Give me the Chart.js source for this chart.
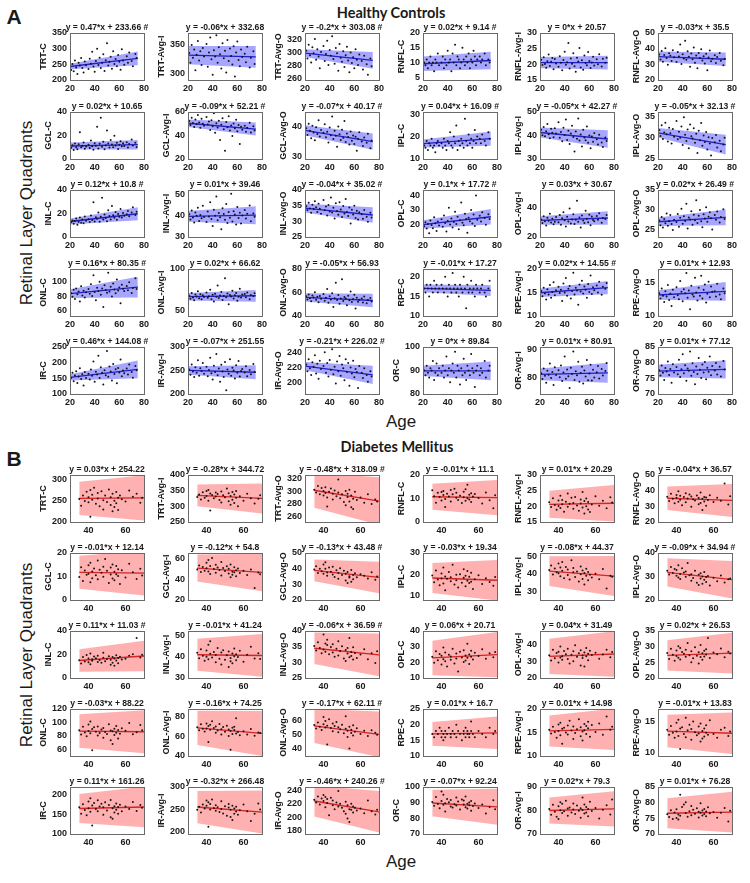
<!DOCTYPE html>
<html>
<head>
<meta charset="utf-8">
<script src="https://cdn.jsdelivr.net/npm/chart.js@4.4.1/dist/chart.umd.min.js"></script>
<style>
  body { margin: 0; background: #fff; width: 750px; height: 883px; position: relative; overflow: hidden; }
  .c { position: absolute; }
  .lbl { position: absolute; color: #1a1a1a; white-space: nowrap; transform: translate(-50%, -50%); font-family: "Liberation Sans", Arial, sans-serif; }
  .panel { font-weight: bold; font-size: 21px; }
  .head { font-family: Lato, "Open Sans", sans-serif; font-weight: 700; font-size: 14.5px; }
  .axis { font-size: 17px; }
  .rot { transform: translate(-50%, -50%) rotate(-90deg); }
</style>
</head>
<body>
<div class="lbl panel" style="left:14px;top:17px">A</div>
<div class="lbl head" style="left:391px;top:12px">Healthy Controls</div>
<div class="lbl axis rot" style="left:27px;top:213px">Retinal Layer Quadrants</div>
<div class="lbl axis" style="left:401px;top:422px">Age</div>
<div class="lbl panel" style="left:14px;top:459px">B</div>
<div class="lbl head" style="left:397px;top:446px">Diabetes Mellitus</div>
<div class="lbl axis rot" style="left:27px;top:655px">Retinal Layer Quadrants</div>
<div class="lbl axis" style="left:401px;top:862px">Age</div>

<script>
// ---- data ----
const layerNames = [
  'TRT-C', 'TRT-Avg-I', 'TRT-Avg-O', 'RNFL-C', 'RNFL-Avg-I', 'RNFL-Avg-O',
  'GCL-C', 'GCL-Avg-I', 'GCL-Avg-O', 'IPL-C', 'IPL-Avg-I', 'IPL-Avg-O',
  'INL-C', 'INL-Avg-I', 'INL-Avg-O', 'OPL-C', 'OPL-Avg-I', 'OPL-Avg-O',
  'ONL-C', 'ONL-Avg-I', 'ONL-Avg-O', 'RPE-C', 'RPE-Avg-I', 'RPE-Avg-O',
  'IR-C', 'IR-Avg-I', 'IR-Avg-O', 'OR-C', 'OR-Avg-I', 'OR-Avg-O'
];

// Healthy controls (panel A)
const healthyXRange = [20, 80];
const healthyXTicks = [20, 40, 60, 80];
const healthyFitRange = [20, 75];
const healthySlopes = [0.47, -0.06, -0.2, 0.02, 0, -0.03, 0.02, -0.09, -0.07, 0.04, -0.05, -0.05,
  0.12, 0.01, -0.04, 0.1, 0.03, 0.02, 0.16, 0.02, -0.05, -0.01, 0.02, 0.01, 0.46, -0.07, -0.21, 0, 0.01, 0.01];
const healthyIntercepts = [233.66, 332.68, 303.08, 9.14, 20.57, 35.5, 10.65, 52.21, 40.17, 16.09, 42.27, 32.13,
  10.8, 39.46, 35.02, 17.72, 30.67, 26.49, 80.35, 66.62, 56.93, 17.27, 14.55, 12.93, 144.08, 251.55, 226.02, 89.84, 80.91, 77.12];
const healthyMarked = [1, 0, 1, 1, 0, 0, 0, 1, 1, 1, 1, 1, 1, 0, 1, 1, 0, 1, 1, 0, 0, 0, 1, 0, 1, 0, 1, 0, 0, 0];
const healthyYMin = [200, 288, 258, 4, 15, 20, 0, 20, 29, 10, 30, 25, 0, 30, 25, 11, 20, 23, 53, 44, 40, 10, 10, 10, 100, 200, 185, 80, 74, 70];
const healthyYMax = [350, 370, 330, 20, 30, 50, 40, 60, 45, 31, 50, 36, 40, 52, 40, 44, 52, 35, 117, 100, 80, 22, 20, 17, 250, 300, 247, 100, 91, 85];
const healthyYTicks = [
  [200, 250, 300, 350], [300, 350], [260, 280, 300, 320], [5, 10, 15, 20], [15, 20, 25, 30], [20, 30, 40, 50],
  [0, 20, 40], [20, 40, 60], [30, 40], [10, 20, 30], [30, 40, 50], [25, 30, 35],
  [0, 20, 40], [30, 40, 50], [25, 30, 35, 40], [20, 30, 40], [20, 40], [25, 30, 35],
  [60, 80, 100], [50, 100], [40, 60, 80], [10, 15, 20], [10, 15, 20], [10, 15],
  [100, 150, 200, 250], [200, 250, 300], [200, 220, 240], [80, 90, 100], [80, 90], [70, 75, 80, 85]
];
const healthyBandStart = [9, 16, 6, 2.5, 1.8, 3.3, 3, 3.2, 1.7, 1.8, 2.1, 1.1, 2.5, 2.5, 1.4, 3, 2.9, 1.1, 6, 4.5, 3.5, 1, 0.9, 0.7, 10, 9, 5.5, 2.2, 2.1, 2];
const healthyBandEnd = [22, 19, 13, 3, 2.2, 4.3, 4, 5.5, 2.8, 3.2, 3.7, 2.3, 5.5, 4.2, 2.5, 5.5, 4.6, 2, 14, 7, 5.8, 1.4, 1.4, 1.4, 28, 15, 12, 4, 3.6, 2.9];
const healthyAges = [21, 22, 23, 24, 25, 26, 27, 28, 29, 30, 31, 32, 33,
  35, 36, 37, 38, 39, 40, 41, 42, 43, 44, 45, 46, 47, 48, 49, 50, 51, 52, 53, 54, 55, 56, 57, 58, 59, 60, 61, 62, 63, 64,
  66, 67, 68, 70, 71, 73, 74];
const healthyValues = [
  [232,251,228,262,240,219,255,246,270,238,224,259,247, 235,268,252,290,243,226,261,300,248,271,238,255,282,229,263,317,246,258,274,236,292,251,267,244,280,258,233,298,262,249, 276,255,288,261,244,283,270],
  [335,318,349,327,341,305,332,356,322,338,314,344,329, 351,311,336,362,324,297,340,329,366,318,345,333,308,352,326,339,301,358,321,343,330,315,347,294,336,355,323,312,341,328, 334,319,346,310,327,338,316],
  [303,291,312,296,285,308,299,321,289,305,294,276,301, 310,287,298,318,281,304,295,325,290,283,307,299,272,313,292,286,302,278,296,309,288,270,300,284,293,276,305,289,281,297, 287,274,295,282,266,291,279],
  [10,9,11,8,10,12,9,10,7,11,10,13,9, 10,12,8,11,9,14,10,11,7,13,10,16,9,12,11,8,10,15,11,9,12,10,13,8,11,10,14,12,9,11, 12,10,11,13,9,11,10],
  [21.5,19.8,22.3,20.1,18.9,21.0,23.1,19.5,20.8,22.0,18.4,21.7,20.3, 19.2,22.6,20.5,18.1,21.4,24.0,19.9,20.7,26.8,18.7,21.9,20.2,23.5,19.4,17.6,22.1,20.9,25.2,19.0,21.3,18.3,22.8,20.4,19.7,23.9,21.1,18.8,20.6,22.4,19.6, 21.6,20.0,23.2,19.3,21.8,20.5,22.1],
  [36.2,33.1,38.5,31.7,35.9,40.3,34.0,29.8,37.1,35.4,32.2,39.0,34.6, 31.5,37.8,35.0,42.6,30.2,36.4,33.7,45.1,32.9,38.3,34.8,28.4,36.9,33.2,40.7,31.0,35.6,27.5,37.3,34.1,39.6,32.5,35.2,30.6,36.8,26.3,34.4,38.9,31.9,33.6, 35.8,30.9,34.7,37.2,32.3,29.4,33.5],
  [9.5,11.8,7.6,13.2,10.1,8.4,12.6,22.8,9.9,11.3,14.0,8.8,10.6, 12.1,9.3,15.7,10.8,7.9,13.5,11.2,27.4,9.0,12.9,35.1,10.4,14.6,8.2,11.7,24.3,13.1,9.7,16.2,12.4,10.0,19.8,11.5,13.8,8.6,12.2,15.1,10.9,13.4,11.0, 14.2,9.8,12.7,16.5,11.4,13.9,10.3],
  [52.3,48.9,55.1,50.7,47.2,53.6,49.8,57.4,51.0,46.5,54.2,50.1,48.3, 55.8,49.4,51.9,44.6,53.0,47.8,58.9,42.3,50.5,46.9,52.6,36.2,49.1,54.7,45.3,27.1,51.4,47.0,56.3,44.2,48.6,39.5,50.2,46.1,53.3,43.7,49.0,32.8,47.5,45.0, 48.4,43.1,46.7,50.9,42.5,47.9,44.3],
  [39.5,37.2,41.0,38.6,36.1,40.3,38.0,35.4,39.8,37.5,42.2,36.7,38.9, 37.9,40.8,36.4,38.3,34.6,39.7,37.1,43.5,35.8,38.6,36.9,33.2,40.1,37.4,35.5,39.0,36.2,41.9,34.8,37.7,36.5,33.9,38.4,35.2,37.0,34.1,36.6,31.8,35.9,38.1, 35.0,33.4,36.3,34.5,37.6,32.7,35.3],
  [16,15,18,14,17,16,19,15,16,13,17,18,16, 17,15,19,16,14,18,17,22,16,15,20,17,25,14,18,16,19,17,15,28,18,16,21,17,19,15,18,23,17,20, 19,17,21,18,16,22,19],
  [42.4,40.1,43.6,39.7,41.8,44.9,40.5,38.8,42.9,41.2,39.3,43.1,40.8, 45.6,39.0,41.5,37.6,43.3,40.2,46.8,38.1,42.0,36.4,40.9,44.1,39.4,33.2,41.7,38.6,47.2,37.9,40.4,35.3,42.5,39.1,38.0,43.8,36.9,40.0,34.6,39.6,37.3,41.1, 38.4,36.2,40.3,37.0,35.1,39.2,37.7],
  [31.8,30.4,32.9,29.7,31.2,33.5,30.8,29.1,32.3,31.0,28.6,32.0,30.2, 33.9,29.6,31.4,30.0,32.6,28.3,34.8,30.7,29.2,31.9,27.5,33.1,30.3,29.8,32.2,28.8,30.9,26.4,31.6,29.4,33.4,28.1,30.5,29.0,31.3,27.2,30.1,28.6,25.8,29.9, 28.9,30.6,27.7,29.3,26.8,28.4,30.0],
  [12.5,14.1,11.2,13.6,15.8,10.4,13.0,16.7,12.2,14.9,11.6,17.5,13.8, 15.2,12.7,18.3,14.4,29.6,13.1,16.9,15.5,20.8,12.9,17.2,33.4,14.8,19.1,16.1,13.5,22.7,17.8,15.0,26.3,18.5,16.4,21.2,14.7,19.6,17.3,23.9,16.6,20.4,18.0, 19.3,22.1,17.6,20.9,25.4,18.8,21.5],
  [40.6,38.2,42.4,39.1,36.8,41.5,39.9,43.7,37.5,40.3,38.8,44.6,39.4, 37.0,41.9,39.6,46.3,38.4,35.2,42.8,40.0,48.9,37.8,41.2,39.3,33.6,43.4,40.8,38.1,45.5,36.6,41.7,39.0,50.2,37.2,42.1,40.5,35.9,44.0,38.9,41.4,36.3,40.1, 42.6,38.7,40.9,44.8,37.4,41.0,39.5],
  [34.8,33.6,35.9,34.1,32.7,35.3,33.9,36.4,34.5,33.0,35.6,34.0,32.4, 36.8,33.5,34.7,31.9,35.2,33.1,37.6,32.8,34.3,30.9,35.8,33.3,32.1,36.1,33.8,31.4,34.9,32.5,37.1,33.0,31.7,34.4,29.3,33.7,32.2,35.0,31.1,33.4,30.6,32.9, 32.3,30.8,33.6,31.5,29.9,32.7,31.2],
  [18.5,21.3,16.9,20.2,13.7,22.6,19.4,17.1,24.8,20.6,15.3,21.9,19.0, 23.4,18.2,26.1,20.9,14.8,22.3,31.5,19.7,24.0,17.6,21.5,28.7,20.1,25.3,16.4,22.8,35.2,21.0,19.3,27.4,23.7,13.9,24.6,22.0,29.9,20.5,26.8,18.8,40.1,23.1, 25.9,21.8,28.3,24.4,19.6,27.0,23.6],
  [31.9,29.5,34.2,30.7,27.8,33.1,31.0,35.8,29.9,32.4,28.6,30.3,33.6, 30.1,34.9,28.3,32.7,36.9,31.4,27.1,33.8,30.6,39.4,29.2,32.0,35.5,28.9,31.7,44.6,30.4,33.3,26.4,34.6,31.2,29.6,37.8,32.5,30.0,35.1,28.0,33.9,31.5,30.8, 34.3,31.8,36.2,29.7,33.0,32.2,35.0],
  [27.2,26.0,28.1,25.4,27.6,26.5,29.0,25.9,27.0,28.6,26.3,24.8,27.4, 26.8,28.9,25.6,27.9,30.2,26.4,28.3,27.1,31.5,25.2,28.0,27.5,29.6,26.1,28.7,27.3,32.4,26.6,28.4,29.9,27.0,25.5,28.8,27.7,30.6,26.9,28.2,29.3,27.8,24.9, 28.6,27.4,29.5,26.7,28.1,30.1,27.6],
  [84.1,79.3,88.7,76.0,90.4,82.6,86.2,72.8,93.5,81.0,87.4,78.1,85.5, 89.9,83.2,96.1,80.4,108.5,85.8,74.6,91.3,87.0,99.7,82.1,90.6,65.3,94.8,88.3,84.7,112.0,86.5,92.9,79.5,97.4,89.2,83.9,102.6,87.7,91.8,70.2,95.5,90.1,86.9, 93.7,88.0,98.8,84.4,91.1,104.3,89.6],
  [68.2,64.5,71.3,66.0,62.8,69.7,67.1,73.4,65.2,70.0,63.9,68.8,66.5, 71.9,65.8,67.6,75.2,64.1,69.3,61.4,70.6,66.9,80.3,65.5,68.4,72.7,63.2,67.9,89.0,66.2,70.9,58.1,69.0,67.3,74.0,64.8,68.6,71.5,62.3,67.0,76.4,65.9,69.5, 70.2,66.4,72.1,64.0,68.9,67.7,71.0],
  [56.8,54.1,58.4,55.2,52.6,57.5,55.8,60.2,53.9,56.3,51.7,57.0,54.6, 58.7,53.0,55.5,62.9,51.2,56.9,54.0,59.3,47.6,55.1,68.4,53.6,57.8,50.4,54.8,71.2,52.7,56.2,55.0,49.1,57.2,53.3,60.8,51.9,54.4,58.0,46.3,55.6,52.1,53.8, 54.9,51.5,56.6,50.8,53.7,55.3,52.4],
  [17,16,18,17,15,18,17,16,19,17,18,16,17, 18,17,16,20,17,15,18,17,16,21,17,18,16,17,15,18,17,16,20,17,12,18,16,17,19,16,17,15,18,17, 16,17,18,16,15,17,19],
  [15.3,14.2,16.0,14.8,13.5,15.7,14.6,16.6,13.9,15.1,17.2,14.4,15.5, 16.2,14.9,15.6,13.2,16.9,15.0,18.1,14.3,15.8,16.4,13.7,15.3,19.2,14.6,16.0,15.4,12.4,16.7,15.2,17.5,14.8,16.3,15.6,13.9,16.8,15.1,18.6,14.7,16.1,15.5, 16.5,15.0,17.3,14.5,16.2,15.8,17.0],
  [13.4,12.6,14.1,13.0,12.1,13.7,12.9,14.6,12.4,13.3,11.5,13.9,12.8, 14.3,13.1,12.5,15.2,13.6,12.2,14.0,13.4,16.4,12.7,13.8,11.0,14.5,13.2,12.9,15.7,13.5,12.3,14.2,13.0,16.0,12.6,13.9,14.7,12.0,13.3,15.1,12.8,14.4,13.6, 13.7,12.9,14.8,13.2,12.5,14.1,13.4],
  [152,168,141,159,173,135,156,182,148,163,127,170,151, 165,146,178,158,204,139,171,162,222,151,185,168,130,176,160,237,155,188,172,143,196,164,179,134,183,169,210,157,175,166, 181,162,194,170,152,189,176],
  [252,241,263,248,236,257,245,272,239,255,249,266,243, 258,238,251,277,244,231,260,247,285,240,254,226,262,248,236,268,208,252,243,274,239,256,250,233,261,245,270,237,249,253, 246,259,238,251,242,264,247],
  [224,215,231,219,210,227,221,236,212,225,205,229,218, 222,240,213,226,208,230,217,244,211,221,199,228,215,235,209,224,219,203,231,214,226,196,220,212,229,207,218,214,193,222, 213,206,219,210,201,215,208],
  [90,88,92,89,87,91,90,94,86,89,93,88,91, 89,92,87,90,96,88,91,85,90,93,89,98,87,92,90,84,91,88,95,89,86,92,90,88,97,91,89,83,90,92, 88,91,89,94,87,90,92],
  [81.5,79.4,83.2,80.6,78.1,82.4,81.0,85.0,79.8,82.0,77.3,83.7,80.9, 82.6,80.1,84.3,78.7,81.8,87.6,79.5,82.9,80.4,76.2,83.5,81.2,89.4,79.1,82.2,80.8,85.7,78.4,81.6,83.9,77.8,82.5,80.3,86.3,79.0,81.4,84.6,78.9,82.8,80.0, 81.9,84.1,79.6,83.0,80.7,82.3,85.2],
  [77.6,75.9,79.1,76.8,74.5,78.3,77.2,80.4,76.1,78.0,73.6,79.5,76.9, 78.6,76.3,80.9,75.4,77.9,82.7,76.6,79.2,74.2,78.1,77.4,83.6,75.8,79.8,77.0,73.1,78.8,76.4,81.5,77.7,75.1,79.4,76.9,80.2,74.7,78.4,77.1,82.0,76.0,78.9, 77.5,79.9,76.2,78.7,75.6,80.5,77.8]
];

// Diabetes mellitus (panel B)
const diabetesXRange = [30, 70];
const diabetesXTicks = [40, 60];
const diabetesFitRange = [35, 70];
const diabetesSlopes = [0.03, -0.28, -0.48, -0.01, 0.01, -0.04, -0.01, -0.12, -0.13, -0.03, -0.08, -0.09,
  0.11, -0.01, -0.06, 0.06, 0.04, 0.02, -0.03, -0.16, -0.17, 0.01, 0.01, -0.01, 0.11, -0.32, -0.46, -0.07, 0.02, 0.01];
const diabetesIntercepts = [254.22, 344.72, 318.09, 11.1, 20.29, 36.57, 12.14, 54.8, 43.48, 19.34, 44.37, 34.94,
  11.03, 41.24, 36.59, 20.71, 31.49, 26.53, 88.22, 74.25, 62.11, 16.7, 14.98, 13.83, 161.26, 266.48, 240.26, 92.24, 79.3, 76.28];
const diabetesMarked = [0, 0, 1, 0, 0, 0, 0, 0, 1, 0, 0, 1, 1, 0, 1, 0, 0, 0, 0, 0, 1, 0, 0, 0, 0, 0, 1, 0, 0, 0];
const diabetesYMin = [200, 250, 252, 0, 15, 20, 0, 20, 20, 8, 25, 20, 0, 30, 25, 10, 20, 20, 50, 40, 35, 10, 10, 9.5, 100, 195, 175, 70, 70, 70];
const diabetesYMax = [310, 400, 325, 20, 30, 50, 20, 65, 50, 30, 52, 40, 40, 52, 40, 40, 48, 35, 120, 88, 68, 25, 20, 17, 220, 300, 245, 100, 90, 85];
const diabetesYTicks = [
  [200, 250, 300], [250, 300, 350, 400], [260, 280, 300, 320], [0, 10, 20], [15, 20, 25, 30], [20, 30, 40, 50],
  [0, 10, 20], [20, 40, 60], [20, 30, 40, 50], [10, 20, 30], [30, 40, 50], [20, 30, 40],
  [0, 20, 40], [30, 40, 50], [25, 30, 35, 40], [10, 20, 30, 40], [20, 30, 40], [20, 25, 30, 35],
  [60, 80, 100, 120], [40, 60, 80], [40, 50, 60], [10, 15, 20, 25], [10, 15, 20], [10, 15],
  [100, 150, 200], [200, 250, 300], [180, 200, 220, 240], [70, 80, 90, 100], [70, 80, 90], [70, 75, 80, 85]
];
const diabetesBandStart = [39, 35, 27, 5.5, 4.3, 7.5, 7, 13, 7, 7, 8.5, 6, 9.5, 7.5, 5, 11, 10.5, 4.8, 25, 17.5, 12, 3.8, 3.3, 2.6, 37, 36, 23, 8.5, 5.5, 4.8];
const diabetesBandEnd = [53, 48, 37, 7.5, 5.8, 10.5, 9.5, 18, 10, 9.5, 11.5, 8, 13, 10, 6.8, 14.5, 13.5, 6.5, 32, 23, 16, 5.2, 4.4, 3.3, 52, 48, 31, 11.5, 7.5, 6.5];
const diabetesAges = [35, 36, 37, 38, 39, 40, 40, 41, 41, 42, 42, 43, 44, 45, 45, 46, 47, 48, 48, 49,
  50, 51, 52, 52, 53, 53, 54, 54, 55, 55, 56, 56, 57, 58, 60, 62, 64, 66, 68, 69];
const diabetesValues = [
  [254,238,262,249,271, 246,258,275,212,264,252,280, 243,268,255,237,272,251,229,262, 247,276,240,258,225,266,250,235, 270,244,257,228,262,253, 248,274,259,266,245,257],
  [330,338,322,345,327, 349,333,352,318,341,287,336, 326,344,331,339,320,347,312,335, 329,357,316,342,305,333,321,346, 338,311,327,349,300,332, 318,340,326,309,324,335],
  [302,298,308,295,305, 300,293,306,297,290,276,299, 304,287,296,301,292,318,298,289, 295,283,300,278,291,296,284,302, 275,293,288,272,299,286, 290,282,295,280,287,284],
  [13.5,11.0,8.2,12.4,10.6, 9.1,12.8,11.5,13.2,9.8,6.4,12.0, 10.9,13.6,8.7,11.8,14.2,10.3,12.5,9.4, 11.2,8.1,12.9,10.5,9.0,13.9,10.1,15.8, 11.6,9.6,12.2,8.5,10.8,11.9, 10.2,7.9,12.6,9.3,5.8,11.4],
  [21.3,19.8,22.6,20.4,18.9, 21.9,20.1,23.4,19.5,22.0,20.7,18.3, 21.5,24.1,19.9,20.8,22.7,19.2,21.1,23.0, 20.3,18.6,22.2,20.9,19.6,24.6,21.7,17.7, 20.0,22.5,19.0,21.4,18.2,20.6, 23.2,20.2,21.8,19.4,22.9,21.2],
  [36.1,33.4,38.0,34.8,31.9, 37.2,35.5,39.6,33.0,36.8,34.2,30.7, 35.9,38.4,32.6,35.0,37.5,29.8,36.3,34.5, 33.7,36.9,31.4,35.3,38.8,32.2,34.9,27.6, 36.0,33.1,35.6,30.4,34.0,37.0, 32.8,35.4,33.6,44.5,31.2,36.4],
  [9.8,13.9,8.1,12.6,10.7, 14.8,11.2,7.6,15.9,12.1,9.3,13.4, 10.5,16.8,8.8,12.9,11.6,14.2,9.9,17.5, 12.4,7.2,13.8,10.9,15.1,9.1,12.0,8.4, 14.5,11.0,10.2,13.1,6.8,12.7, 9.6,15.4,11.8,8.9,13.3,10.4],
  [49.2,53.1,46.8,51.5,48.0, 55.7,50.3,58.2,47.4,52.6,44.9,60.1, 49.7,53.8,46.0,51.0,48.8,56.4,43.5,50.6, 47.7,52.2,45.3,49.9,41.8,54.0,47.1,44.2, 51.4,46.6,48.5,42.7,50.1,45.8, 47.9,43.9,49.3,31.5,46.3,44.6],
  [39.4,41.5,37.2,40.0,38.3, 42.6,36.8,39.9,44.1,37.6,35.4,40.7, 38.1,36.2,41.2,34.7,39.0,37.3,33.6,40.3, 35.9,38.6,32.4,36.7,30.8,37.9,34.3,35.1, 39.2,31.7,36.0,33.3,37.1,34.6, 36.4,35.5,33.8,37.7,32.9,35.0],
  [19.5,16.3,21.8,17.6,14.9, 20.4,18.1,23.2,15.7,19.0,12.6,17.9, 21.1,16.8,18.7,24.5,15.2,19.8,17.3,13.8, 20.0,16.1,22.4,18.4,14.4,19.3,17.0,21.6, 15.9,18.9,16.6,20.7,13.2,17.7, 19.6,15.5,18.2,16.4,14.7,18.8],
  [42.3,44.8,39.6,43.1,41.0, 45.9,40.4,43.7,38.7,46.8,41.8,37.5, 44.0,39.3,42.5,36.8,47.9,40.9,43.4,38.2, 41.4,35.6,44.3,39.8,37.1,42.0,33.9,40.5, 38.9,43.0,36.3,41.1,39.5,37.9, 40.1,36.9,42.8,31.6,39.0,38.4],
  [32.4,30.9,34.0,31.5,33.2, 30.3,32.8,29.6,34.8,31.1,28.9,33.5, 31.7,29.9,32.1,35.7,30.5,28.2,31.0,29.4, 32.5,27.3,30.7,26.4,31.4,29.1,30.0,26.9, 28.6,31.9,29.8,27.7,30.2,26.2, 29.5,28.0,30.4,27.5,28.8,29.2],
  [15.2,12.4,17.8,14.0,19.6, 13.3,16.5,20.9,11.8,15.9,14.6,18.2, 16.9,13.7,19.0,15.4,12.9,17.3,21.5,14.2, 16.1,18.6,11.2,15.6,17.9,13.0,16.7,10.4, 19.3,14.8,17.1,12.5,18.0,15.8, 16.4,18.9,20.2,34.0,17.5,19.8],
  [41.8,39.2,43.5,40.4,38.1, 42.9,40.0,45.6,38.8,41.3,47.2,39.6, 42.2,37.4,40.8,44.1,39.0,41.9,36.3,43.0, 38.5,40.6,35.2,42.4,39.4,37.8,41.5,36.9, 40.2,43.8,38.3,41.1,39.8,42.7, 37.6,40.9,44.6,39.1,41.6,38.9],
  [35.2,33.8,36.4,34.6,32.9, 38.9,34.1,36.0,33.4,35.5,37.2,32.6, 34.9,33.1,35.8,31.8,34.3,36.7,32.2,33.6, 35.1,31.2,33.9,30.4,34.6,32.8,37.8,31.6, 33.3,32.0,34.8,30.9,33.0,31.4, 32.5,34.2,31.0,32.9,29.8,33.5],
  [23.5,19.8,27.1,21.4,25.3, 18.6,24.2,29.5,22.0,20.7,26.3,17.4, 24.9,21.7,23.8,28.6,19.3,25.7,22.5,14.1, 26.8,23.1,20.2,27.7,24.4,21.1,31.9,22.9, 25.0,19.0,27.4,23.6,21.8,26.1, 24.0,28.3,22.3,25.8,23.3,26.6],
  [33.5,30.4,36.8,31.7,34.9, 29.3,35.6,32.2,38.7,33.0,30.9,36.1, 34.2,31.3,37.4,28.6,33.8,35.9,30.0,39.5, 32.6,34.7,27.5,36.5,31.9,33.4,26.8,35.2, 37.9,32.9,34.4,30.6,36.2,33.7, 35.0,31.5,34.0,36.9,32.3,35.5],
  [28.0,26.1,29.3,27.4,25.5, 28.8,27.0,30.1,26.5,29.6,25.9,28.3, 27.7,29.0,26.8,31.2,27.3,25.0,28.5,26.3, 29.8,27.1,24.6,28.2,26.7,30.5,27.9,25.8, 28.7,26.9,29.2,27.5,32.8,26.4, 28.1,27.6,29.4,26.6,28.4,27.8],
  [88.5,82.1,93.4,85.0,79.6, 96.8,87.3,101.5,83.9,90.2,58.4,92.7, 86.0,80.7,94.1,84.4,89.5,77.3,91.8,85.6, 82.9,97.2,88.1,73.5,86.7,67.9,90.6,81.4, 94.5,84.8,76.2,88.9,83.0,91.2, 87.6,99.1,82.5,85.2,96.0,88.3],
  [69.4,66.2,72.5,67.8,64.9, 73.1,68.0,70.6,54.2,71.9,66.8,75.4, 68.5,63.7,70.2,66.1,72.8,61.9,67.3,69.6, 64.8,71.0,60.5,67.0,46.3,65.6,68.9,62.4, 66.5,70.0,63.1,78.6,64.4,61.2, 65.3,62.0,67.6,60.7,64.1,63.4],
  [56.8,54.3,58.5,55.6,53.2, 62.4,57.3,55.0,59.6,43.1,56.2,60.8, 54.7,57.8,52.4,56.0,58.9,51.6,55.2,53.8, 57.0,50.9,54.1,62.9,52.7,48.3,55.5,40.2, 53.5,51.2,56.6,49.4,52.0,54.4, 50.5,52.8,49.0,53.1,51.4,50.0],
  [17,16,18,17,19, 16,18,17,15,18,16,17, 19,17,16,18,17,20,16,18, 17,15,18,17,16,19,17,18, 16,17,21,18,17,16, 18,17,16,19,17,18],
  [15.6,14.8,16.2,15.1,13.9, 16.7,15.3,14.4,17.1,15.8,12.6,16.0, 15.0,16.5,14.6,17.5,15.4,13.6,16.3,14.9, 15.7,17.8,14.2,16.1,15.2,13.3,16.8,15.5, 14.7,16.4,15.9,17.3,14.1,16.6, 15.1,16.9,14.5,18.4,15.6,16.2],
  [13.7,12.9,14.3,13.2,12.4, 14.8,13.4,15.3,12.7,13.9,10.6,14.1, 13.0,15.6,12.5,13.6,14.5,12.1,13.8,15.0, 13.3,12.8,14.2,13.1,11.8,14.7,13.5,12.3, 13.9,12.6,14.4,13.2,12.9,15.2, 13.0,12.4,13.7,14.0,12.7,13.4],
  [168,152,176,161,148, 183,166,191,157,173,122,179, 164,186,158,170,177,149,168,181, 160,174,143,187,166,139,171,155, 178,162,169,152,175,158, 170,164,182,159,174,167],
  [249,256,243,261,252, 270,258,266,211,262,250,272, 253,247,259,255,244,268,251,241, 257,236,254,262,233,249,226,258, 252,240,245,256,238,248, 261,246,224,240,263,250],
  [226,222,231,219,228, 233,224,230,215,227,221,203, 229,218,225,212,222,239,216,220, 214,209,223,205,218,198,212,193, 220,211,216,207,214,210, 213,206,225,209,204,211],
  [90.5,88.1,93.6,89.2,86.4, 97.2,91.0,88.7,95.1,89.6,84.3,92.4, 90.2,87.5,91.7,86.9,89.0,93.3,88.2,90.8, 85.6,92.1,88.8,91.4,87.1,94.0,89.3,86.2, 90.1,88.4,84.9,91.1,87.8,89.5, 86.6,88.9,83.1,87.3,91.6,85.8],
  [80.6,78.2,82.4,79.5,77.3, 81.8,76.4,83.5,80.1,78.9,82.9,79.7, 84.2,80.9,77.8,81.3,79.2,83.0,80.4,78.5, 82.1,79.9,76.9,81.0,85.5,80.2,78.7,82.6, 79.1,81.5,80.6,77.6,83.7,79.8, 81.1,76.6,80.3,82.2,78.3,84.7],
  [76.3,75.4,77.6,74.8,76.9, 75.1,77.9,74.6,76.2,82.5,75.8,78.6, 79.4,76.7,80.1,75.5,77.3,78.9,76.0,77.7, 76.5,78.2,75.3,77.1,79.8,76.8,75.9,77.5, 78.0,76.4,77.2,75.7,78.5,76.6, 77.0,75.2,76.8,78.3,74.0,77.4]
];

// ---- layout ----
const FONT = '"Liberation Sans", Arial, sans-serif';
const COL_LEFT = [70, 187.6, 305.2, 422.8, 540.4, 658];
const HEALTHY_ROW_TOP = [33, 111.5, 190, 268.5, 347];
const DIABETES_ROW_TOP = [475, 553, 631, 709, 787];
const PAD_L = 46, PAD_T = 14, PAD_R = 10, AXIS_H = 17, BOX_W = 74, BOX_H = 47;

Chart.defaults.font.family = FONT;

const measure = document.createElement('canvas').getContext('2d');
measure.font = 'bold 9px ' + FONT;

// frame + "y = a*x + b" title over each small axes
const framePlugin = {
  id: 'frame',
  afterDatasetsDraw(chart, args, opts) {
    const { ctx, chartArea: a } = chart;
    ctx.save();
    ctx.strokeStyle = '#6a6a6a';
    ctx.lineWidth = 1;
    ctx.strokeRect(Math.round(a.left) + 0.5, Math.round(a.top) + 0.5, Math.round(a.width), Math.round(a.height));
    ctx.fillStyle = '#1a1a1a';
    ctx.font = 'bold 8.6px ' + FONT;
    ctx.textAlign = 'center';
    ctx.textBaseline = 'alphabetic';
    ctx.fillText(opts.text, (a.left + a.right) / 2, a.top - 3);
    ctx.restore();
  }
};

function tickFont() {
  return { family: FONT, size: 9, weight: 'bold' };
}

function drawPanel(p) {
  layerNames.forEach((name, i) => {
    const row = Math.floor(i / 6), col = i % 6;
    const canvas = document.createElement('canvas');
    canvas.className = 'c';
    canvas.width = PAD_L + BOX_W + PAD_R;
    canvas.height = PAD_T + BOX_H + AXIS_H;
    canvas.style.left = Math.round(COL_LEFT[col] - PAD_L) + 'px';
    canvas.style.top = Math.round(p.rowTop[row] - PAD_T) + 'px';
    document.body.appendChild(canvas);

    const slope = p.slopes[i], icpt = p.intercepts[i];
    const [x0, x1] = p.fitRange;
    const l0 = slope * x0 + icpt, l1 = slope * x1 + icpt;
    const points = p.values[i].map((v, k) => ({ x: p.ages[k], y: v }));
    const title = 'y = ' + slope + '*x + ' + icpt + (p.marked[i] ? ' #' : '');

    const yTicks = p.yTicks[i];
    const labW = Math.max(...yTicks.map(t => measure.measureText(String(t)).width));
    const titlePad = Math.max(0, PAD_L - (labW + 6.5 + 5.4) - 5.4);

    new Chart(canvas, {
      type: 'line',
      data: {
        datasets: [
          { data: points, showLine: false, pointRadius: 1, pointBorderWidth: 0, pointBackgroundColor: '#151515' },
          { data: [{ x: x0, y: l0 }, { x: x1, y: l1 }], borderColor: p.lineColor, borderWidth: 1.3, pointRadius: 0 },
          { data: [{ x: x0, y: l0 + p.bandStart[i] }, { x: x1, y: l1 + p.bandEnd[i] }],
            borderColor: 'rgba(0,0,0,0)', borderWidth: 0, pointRadius: 0, fill: '+1', backgroundColor: p.bandColor },
          { data: [{ x: x0, y: l0 - p.bandStart[i] }, { x: x1, y: l1 - p.bandEnd[i] }],
            borderColor: 'rgba(0,0,0,0)', borderWidth: 0, pointRadius: 0, fill: false }
        ]
      },
      options: {
        responsive: false,
        animation: false,
        events: [],
        layout: { padding: { top: PAD_T, right: PAD_R, bottom: 0, left: 0 } },
        plugins: { legend: { display: false }, tooltip: { enabled: false }, frame: { text: title } },
        scales: {
          x: {
            type: 'linear', min: p.xRange[0], max: p.xRange[1],
            afterBuildTicks: s => { s.ticks = p.xTicks.map(v => ({ value: v })); },
            afterFit: s => { s.height = AXIS_H; s.paddingLeft = 0; s.paddingRight = 0; },
            grid: { display: false, drawTicks: false }, border: { display: false },
            ticks: { font: tickFont(), color: '#1a1a1a', padding: 3, maxRotation: 0, autoSkip: false }
          },
          y: {
            type: 'linear', min: p.yMin[i], max: p.yMax[i],
            afterBuildTicks: s => { s.ticks = yTicks.map(v => ({ value: v })); },
            afterFit: s => { s.width = PAD_L; s.paddingTop = 0; s.paddingBottom = 0; },
            grid: { display: false, drawTicks: false }, border: { display: false },
            ticks: { font: tickFont(), color: '#1a1a1a', padding: 3, autoSkip: false },
            title: { display: true, text: name, font: tickFont(), color: '#1a1a1a', padding: { top: titlePad, bottom: 0 } }
          }
        }
      },
      plugins: [framePlugin]
    });
  });
}

drawPanel({
  rowTop: HEALTHY_ROW_TOP, xRange: healthyXRange, xTicks: healthyXTicks, fitRange: healthyFitRange,
  slopes: healthySlopes, intercepts: healthyIntercepts, marked: healthyMarked,
  yMin: healthyYMin, yMax: healthyYMax, yTicks: healthyYTicks,
  bandStart: healthyBandStart, bandEnd: healthyBandEnd,
  ages: healthyAges, values: healthyValues,
  lineColor: '#1f1fc8', bandColor: 'rgba(70,70,255,0.48)'
});

drawPanel({
  rowTop: DIABETES_ROW_TOP, xRange: diabetesXRange, xTicks: diabetesXTicks, fitRange: diabetesFitRange,
  slopes: diabetesSlopes, intercepts: diabetesIntercepts, marked: diabetesMarked,
  yMin: diabetesYMin, yMax: diabetesYMax, yTicks: diabetesYTicks,
  bandStart: diabetesBandStart, bandEnd: diabetesBandEnd,
  ages: diabetesAges, values: diabetesValues,
  lineColor: '#d42424', bandColor: 'rgba(255,80,80,0.45)'
});
</script>
</body>
</html>
